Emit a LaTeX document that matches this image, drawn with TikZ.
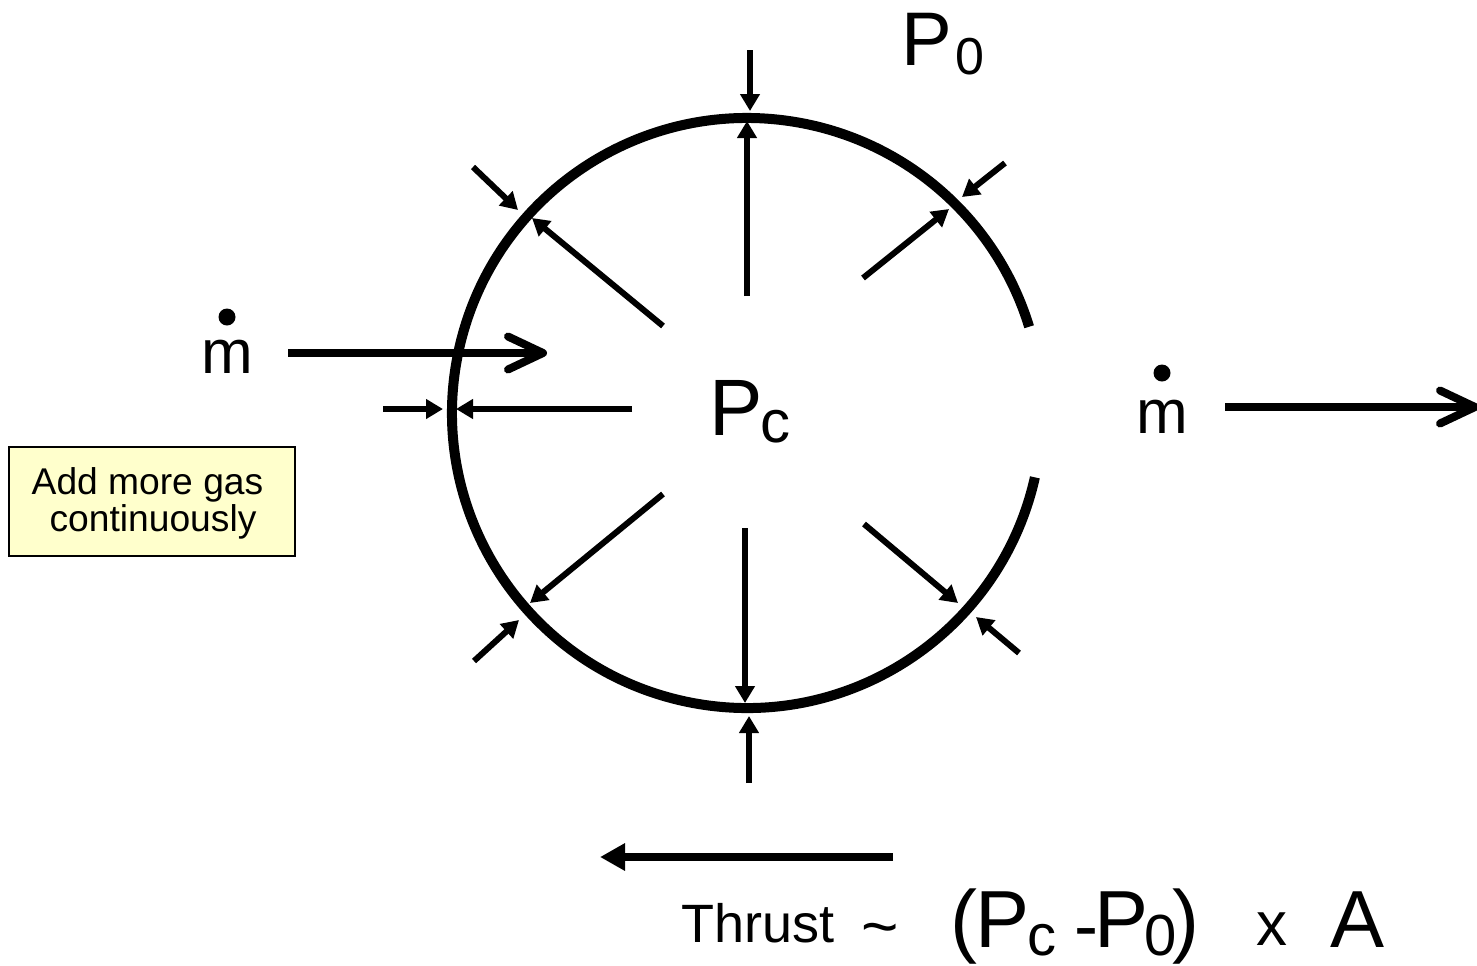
\documentclass[tikz,border=0pt]{standalone}
\usepackage{fontspec}
\setmainfont{Liberation Sans}
\usetikzlibrary{arrows.meta}
\definecolor{notefill}{RGB}{255,255,204}
\begin{document}
\begin{tikzpicture}[x=0.5pt,y=-0.5pt,
  thinarrow/.style={line width=3pt,-{Triangle[length=8.5pt,width=9.5pt]}},
  flowarrow/.style={line width=4pt,-{Straight Barb[length=17.5pt,width=16.5pt,round]}},
  thrustarrow/.style={line width=4pt,-{Triangle[length=12.5pt,width=13pt]}},
  txt/.style={inner sep=0pt,outer sep=0pt,anchor=base west},
  big/.style={font=\fontsize{40.5}{40.5}\selectfont},
  small/.style={font=\fontsize{29}{29}\selectfont},
]
\useasboundingbox (0,0) rectangle (1477,965);
% chamber wall
\coordinate (C) at (747,413);
\draw[line width=5pt] ([shift={(-12.6:147.5pt)}]C) arc[start angle=-12.6,end angle=-343,radius=147.5pt];

% inner pressure arrows
\coordinate (i1s) at (747,296); \coordinate (i1t) at (747,121);
\coordinate (i2s) at (663,326); \coordinate (i2t) at (532,218);
\coordinate (i3s) at (863,278); \coordinate (i3t) at (949,209);
\coordinate (i4s) at (632,409); \coordinate (i4t) at (456,409);
\coordinate (i5s) at (663,494); \coordinate (i5t) at (530,603);
\coordinate (i6s) at (745,528); \coordinate (i6t) at (745,703);
\coordinate (i7s) at (864,524); \coordinate (i7t) at (958,603);
\foreach \k in {1,...,7} \draw[thinarrow] (i\k s) -- (i\k t);

% outer pressure arrows
\coordinate (o1s) at (750,50);   \coordinate (o1t) at (750,111);
\coordinate (o2s) at (1005,163); \coordinate (o2t) at (962,197);
\coordinate (o3s) at (473,167);  \coordinate (o3t) at (518,210);
\coordinate (o4s) at (383,409);  \coordinate (o4t) at (443,409);
\coordinate (o5s) at (474,661);  \coordinate (o5t) at (519,620);
\coordinate (o6s) at (749,783);  \coordinate (o6t) at (749,716);
\coordinate (o7s) at (1019,653); \coordinate (o7t) at (976,617);
\foreach \k in {1,...,7} \draw[thinarrow] (o\k s) -- (o\k t);

% mass flow in / out
\coordinate (inS) at (288,353);  \coordinate (inT) at (547,353);
\coordinate (outS) at (1225,407); \coordinate (outT) at (1479,407);
\draw[flowarrow] (inS) -- (inT);
\draw[flowarrow] (outS) -- (outT);
\node[inner sep=0pt,anchor=base,font=\fontsize{31}{31}\selectfont] (mdotin) at (227.5,373) {m};
\fill (227,317) circle[radius=4.25pt];
\node[inner sep=0pt,anchor=base,font=\fontsize{31}{31}\selectfont] (mdotout) at (1162.5,433) {m};
\fill (1162,373) circle[radius=4.25pt];

% pressures
\node[txt,font=\fontsize{38}{38}\selectfont] (pzero) at (901,65) {P\hspace{2pt}\raisebox{-4.5pt}{\fontsize{26}{26}\selectfont 0}};
\node[txt,font=\fontsize{40}{40}\selectfont] (pcham) at (709,435) {P\hspace{-1pt}\raisebox{-3.5pt}{\fontsize{30}{30}\selectfont c}};

% note box
\node[draw=black,line width=0.75pt,fill=notefill,minimum width=143pt,minimum height=54.5pt,inner sep=0pt] (note) at (152,501.5) {};
\node[inner sep=0pt,anchor=base,font=\fontsize{18.6}{18.6}\selectfont] (noteA) at (147.5,494) {Add more gas};
\node[inner sep=0pt,anchor=base,font=\fontsize{18.6}{18.6}\selectfont] (noteB) at (153,531) {continuously};

% thrust
\coordinate (thS) at (893,857); \coordinate (thT) at (600,857);
\draw[thrustarrow] (thS) -- (thT);
\node[txt,font=\fontsize{27}{27}\selectfont] (thrust) at (681,942) {Thrust};
\node[txt,font=\fontsize{32}{32}\selectfont] (tilde) at (861,948) {\textasciitilde};
\node[txt,big]   (lpar) at (950,947) {(};
\node[txt,big]   (fp1)  at (975,947) {P};
\node[txt,small] (fc)   at (1027,955) {c};
\node[txt,font=\fontsize{36}{36}\selectfont] (fmin) at (1074,950) {-};
\node[txt,big]   (fp2)  at (1094,947) {P};
\node[txt,small] (f0)   at (1144,955) {0};
\node[txt,big]   (rpar) at (1172,947) {)};
\node[txt,font=\fontsize{31}{31}\selectfont] (times) at (1256,945) {x};
\node[txt,big]   (fa)   at (1330,947) {A};
\end{tikzpicture}
\end{document}
